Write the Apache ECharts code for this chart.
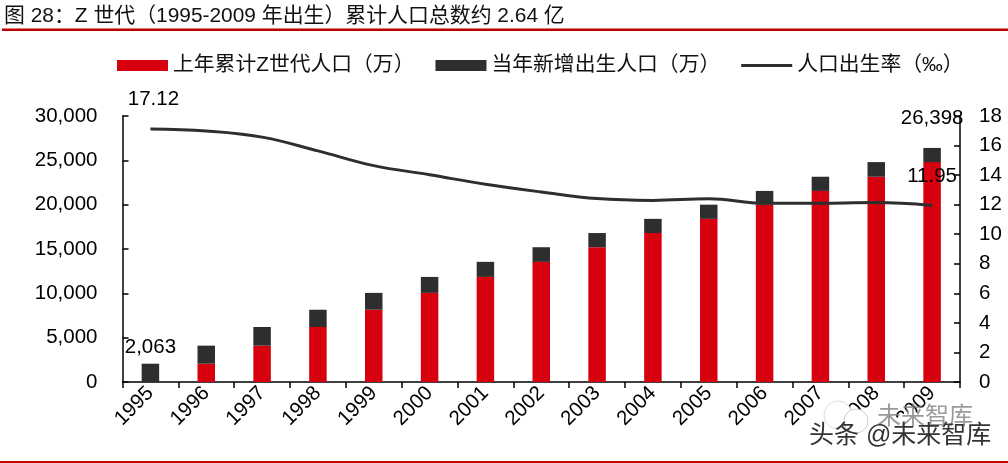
<!DOCTYPE html>
<html><head><meta charset="utf-8">
<style>html,body{margin:0;padding:0;background:#fff}#c{width:1008px;height:463px}</style>
<script src="https://cdn.jsdelivr.net/npm/echarts@6/dist/echarts.min.js"></script></head>
<body><div id="c"></div>
<script>
const years=['1995','1996','1997','1998','1999','2000','2001','2002','2003','2004','2005','2006','2007','2008','2009'];
const priorTotal=[0,2063,4100,6200,8150,10050,11850,13550,15200,16800,18400,20000,21550,23150,24800];
const newBirths=[2063,2037,2100,1950,1900,1800,1700,1650,1600,1600,1600,1550,1600,1650,1598];
const totals=[2063,4100,6200,8150,10050,11850,13550,15200,16800,18400,20000,21550,23150,24800,26398];
const birthRate=[17.12,16.98,16.57,15.64,14.64,14.03,13.38,12.86,12.41,12.29,12.40,12.09,12.10,12.14,11.95];
const F='"Liberation Sans","Noto Sans CJK SC",sans-serif';
const FS=20.5;
const chart=echarts.init(document.getElementById('c'),null,{renderer:'canvas'});
const axisLine={show:true,lineStyle:{color:'#000',width:1.5}};
const edge=i=>i===0||i===14;
chart.setOption({
 animation:false,
 textStyle:{fontFamily:F},
 grid:{left:122.5,right:48,top:116,bottom:81},
 legend:{left:112,top:50,itemWidth:51,itemHeight:11,itemGap:21,
  textStyle:{fontFamily:F,fontSize:20.8,color:'#111'},
  data:[{name:'上年累计Z世代人口（万）',icon:'rect'},{name:'当年新增出生人口（万）',icon:'rect'},
   {name:'人口出生率（‰）',icon:'path://M0 0L0 0M0 4H51V7H0ZM0 11L0 11'}]},
 xAxis:{type:'category',data:years,axisLine,
  axisTick:{show:true,length:6,lineStyle:{color:'#000',width:1.5}},
  axisLabel:{rotate:45,fontSize:FS,color:'#000',margin:8,interval:0}},
 yAxis:[
  {type:'value',min:0,max:30000,interval:5000,axisLine,splitLine:{show:false},
   axisTick:{show:true,inside:true,length:6,lineStyle:{color:'#000',width:1.5}},
   axisLabel:{fontSize:FS,color:'#000',margin:25,formatter:v=>v.toLocaleString('en-US')}},
  {type:'value',min:0,max:18,interval:2,axisLine,splitLine:{show:false},
   axisTick:{show:true,inside:true,length:6,lineStyle:{color:'#000',width:1.5}},
   axisLabel:{fontSize:FS,color:'#000',margin:19}}
 ],
 series:[
  {name:'上年累计Z世代人口（万）',type:'bar',stack:'a',barWidth:17.5,data:priorTotal,itemStyle:{color:'#D7000F'}},
  {name:'当年新增出生人口（万）',type:'bar',stack:'a',barWidth:17.5,
   data:newBirths.map((v,i)=>i===14?{value:v,label:{distance:19}}:v),itemStyle:{color:'#2E2E2E'},
   label:{show:true,position:'top',distance:6,fontSize:FS,color:'#000',
    formatter:p=>edge(p.dataIndex)?totals[p.dataIndex].toLocaleString('en-US'):''}},
  {name:'人口出生率（‰）',type:'line',yAxisIndex:1,smooth:0.4,showSymbol:true,symbol:'circle',symbolSize:0.01,
   data:birthRate.map((v,i)=>i===0?{value:v,label:{offset:[3,0]}}:v),
   lineStyle:{color:'#2E2E2E',width:3},itemStyle:{color:'#2E2E2E'},z:5,
   label:{show:true,position:'top',distance:19,fontSize:FS,color:'#000',
    formatter:p=>edge(p.dataIndex)?birthRate[p.dataIndex].toFixed(2):''}}
 ],
 graphic:[
  {type:'text',left:4,top:6,style:{text:'图 28：Z 世代（1995-2009 年出生）累计人口总数约 2.64 亿',fontFamily:F,fontSize:20.9,fill:'#111'}},
  {type:'rect',shape:{x:2,y:28.5,width:1006,height:2.5},style:{fill:'#C00000'}},
  {type:'rect',shape:{x:0,y:461,width:1008,height:2},style:{fill:'#C00000'}},
  {type:'circle',shape:{cx:838,cy:415,r:14},style:{fill:'#fff',stroke:'#ddd',lineWidth:1},z:20},
  {type:'circle',shape:{cx:856,cy:421,r:12},style:{fill:'#fff',stroke:'#ccc',lineWidth:1},z:20},
  {type:'circle',shape:{cx:911,cy:423,r:12},style:{fill:'#fff'},z:20},
  {type:'text',left:877,top:405,z:21,style:{text:'未来智库',fontFamily:F,fontSize:24,fill:'rgba(120,120,120,0.75)'}},
  {type:'text',left:809,top:424,z:22,style:{text:'头条 @未来智库',fontFamily:F,fontSize:25,fill:'#333'}}
 ]
});
</script></body></html>
